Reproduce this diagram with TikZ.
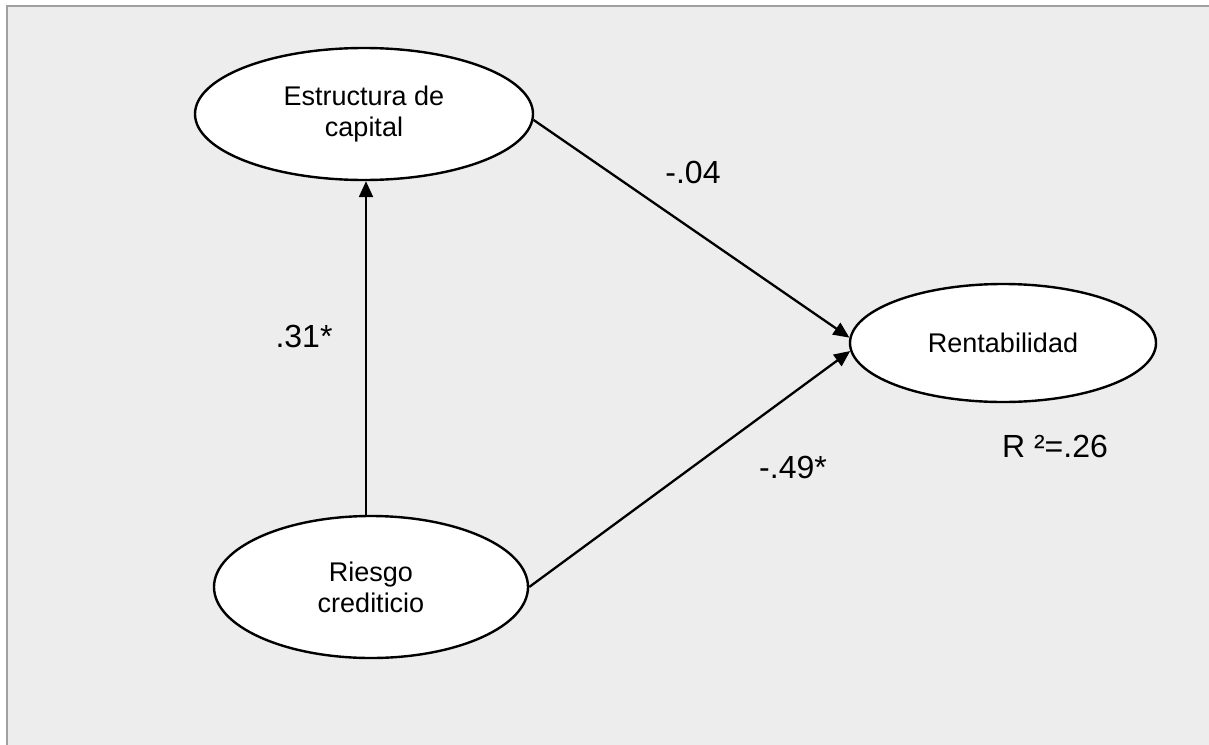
\documentclass[tikz,border=0pt]{standalone}
\usepackage{fontspec}
\setmainfont{Liberation Sans}
\usetikzlibrary{shapes.geometric,arrows.meta}
\definecolor{bg}{HTML}{EDEDED}
\definecolor{frame}{HTML}{A0A0A0}
\tikzset{
  latent/.style={ellipse, draw=black, fill=white, line width=2.4pt, inner sep=0pt,
    align=center, font=\fontsize{27}{31}\selectfont},
  path/.style={line width=2.3pt, -{Triangle[length=16pt,width=14pt]}},
  coef/.style={anchor=base, font=\fontsize{32}{36}\selectfont, inner sep=0pt}
}
\begin{document}
\begin{tikzpicture}[x=1pt,y=-1pt]
\useasboundingbox (0,0) rectangle (1209,744);
\clip (0,0) rectangle (1209,744);
\draw[fill=bg, draw=frame, line width=2pt] (7,6) rectangle (1230,760);
\node[latent, minimum width=338pt, minimum height=132pt] (est) at (364,114) {Estructura de\\capital};
\node[latent, minimum width=306pt, minimum height=118pt] (ren) at (1003,343) {Rentabilidad};
\node[latent, minimum width=314pt, minimum height=142pt] (rie) at (371,587) {Riesgo\\crediticio};
\coordinate (vtop) at ([xshift=2pt]est.south);
\draw[path] (vtop |- rie.north) -- (vtop);
\draw[path] (est.-2) -- (ren.178);
\draw[path] (rie.east) -- (ren.183);
\node[coef] (l1) at (693,183) {-.04};
\node[coef] (l2) at (304,347) {.31*};
\node[coef] (l3) at (793,478) {-.49*};
\node[coef] (l4) at (1055,457) {R ²=.26};
\end{tikzpicture}
\end{document}
